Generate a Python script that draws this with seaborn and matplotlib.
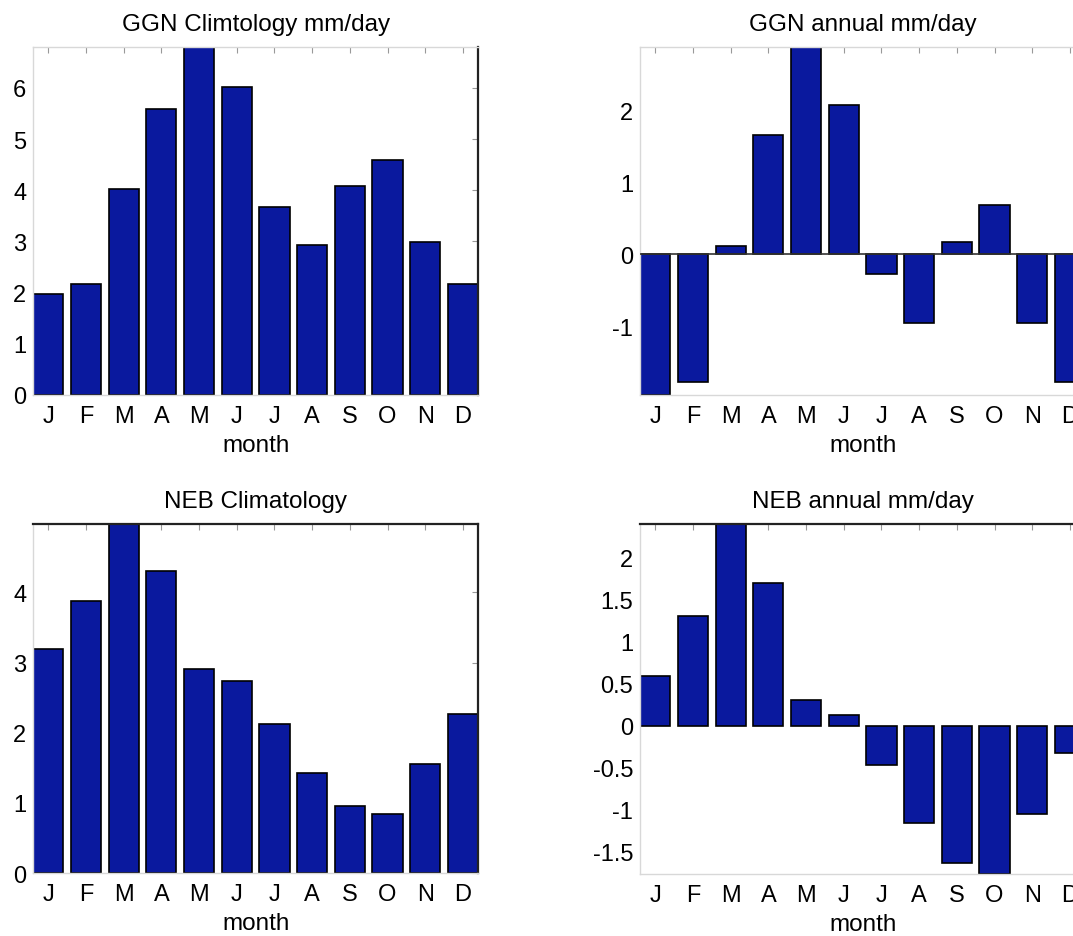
import matplotlib
matplotlib.use("Agg")
import matplotlib.pyplot as plt
import seaborn as sns

# Monthly rainfall values (mm/day)
month_labels = ["J", "F", "M", "A", "M", "J", "J", "A", "S", "O", "N", "D"]
ggn_clim = [1.98, 2.16, 4.03, 5.58, 6.80, 6.02, 3.67, 2.94, 4.08, 4.59, 2.98, 2.16]
ggn_anom = [-1.96, -1.78, 0.11, 1.66, 2.89, 2.08, -0.28, -0.96, 0.17, 0.69, -0.96, -1.78]
neb_clim = [3.19, 3.87, 4.97, 4.30, 2.91, 2.73, 2.13, 1.43, 0.96, 0.85, 1.56, 2.27]
neb_anom = [0.59, 1.31, 2.40, 1.70, 0.31, 0.13, -0.47, -1.16, -1.64, -1.77, -1.05, -0.33]

titles = ["GGN Climtology mm/day", "GGN annual mm/day",
          "NEB Climatology", "NEB annual mm/day"]
yticks = [[0, 1, 2, 3, 4, 5, 6], [-1, 0, 1, 2],
          [0, 1, 2, 3, 4], [-1.5, -1, -0.5, 0, 0.5, 1, 1.5, 2]]
yticklabels = [["0", "1", "2", "3", "4", "5", "6"], ["-1", "0", "1", "2"],
               ["0", "1", "2", "3", "4"],
               ["-1.5", "-1", "-0.5", "0", "0.5", "1", "1.5", "2"]]

sns.set_theme(style="white")
plt.rcParams["font.family"] = ["Liberation Sans", "DejaVu Sans"]
plt.rcParams["text.color"] = "black"
plt.rcParams["axes.labelcolor"] = "black"

bar_color = "#0a199e"
light = "#d8d8d8"
dark = "#222222"

fig = plt.figure(figsize=(10.73, 9.37), dpi=100)
fig.patch.set_facecolor("white")

# axes rectangles [left, bottom, width, height] in figure fraction
rects = [
    [0.0310, 0.5774, 0.4145, 0.3714],
    [0.5967, 0.5774, 0.4145, 0.3714],
    [0.0310, 0.0670, 0.4145, 0.3725],
    [0.5967, 0.0660, 0.4145, 0.3735],
]
series = [ggn_clim, ggn_anom, neb_clim, neb_anom]
top_dark = [False, False, True, True]

for i, (rect, vals) in enumerate(zip(rects, series)):
    ax = fig.add_axes(rect)
    sns.barplot(x=list(range(12)), y=vals, color=bar_color, saturation=1,
                edgecolor="black", linewidth=1.2, width=0.8, ax=ax)
    lo = min(0, min(vals))
    hi = max(vals)
    ax.set_ylim(lo, hi)
    ax.set_xlim(-0.4, 11.4)
    if i == 1:
        ax.axhline(0, color="#333333", linewidth=1.2, zorder=3)
    ax.set_xticks(range(12))
    ax.set_xticklabels(month_labels)
    ax.set_yticks(yticks[i])
    ax.set_yticklabels(yticklabels[i])
    ax.tick_params(axis="both", direction="in", length=4, width=0.8,
                   color="#999999", labelsize=17, labelcolor="black",
                   top=True, right=True)
    ax.tick_params(axis="x", pad=7)
    ax.tick_params(axis="y", pad=5)
    ax.set_xlabel("month", fontsize=17.5, labelpad=5, color="black")
    ax.set_ylabel("")
    ax.set_title(titles[i], fontsize=17.5, pad=12.5, color="black")
    for side in ["left", "bottom"]:
        ax.spines[side].set_color(light)
        ax.spines[side].set_linewidth(1.0)
    ax.spines["right"].set_color(dark)
    ax.spines["right"].set_linewidth(1.6)
    ax.spines["top"].set_color(dark if top_dark[i] else light)
    ax.spines["top"].set_linewidth(1.6 if top_dark[i] else 1.0)
    ax.grid(False)

fig.savefig("out.png", dpi=100, facecolor="white")
